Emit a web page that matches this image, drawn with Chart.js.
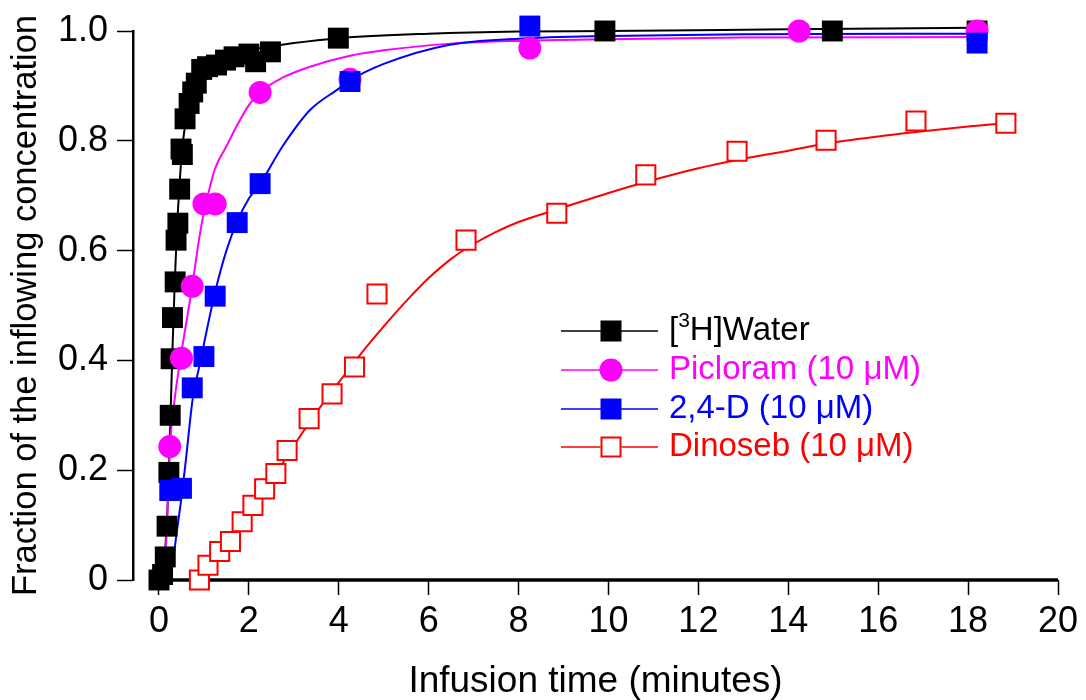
<!DOCTYPE html>
<html>
<head>
<meta charset="utf-8">
<script src="https://cdn.jsdelivr.net/npm/chart.js@4.4.0/dist/chart.umd.min.js"></script>
<style>
  body { margin: 0; background: #fff; }
  canvas { display: block; }
</style>
</head>
<body>
<canvas id="infusion" width="1086" height="700"></canvas>
<script>
// Puntos medidos ([3H]Water)
const aguaX = [0.0, 0.08, 0.14, 0.18, 0.22, 0.25, 0.27, 0.30, 0.36, 0.38, 0.42, 0.46, 0.49, 0.52, 0.58, 0.67, 0.75, 0.83, 0.95, 1.08, 1.28, 1.48, 1.67, 2.0, 2.15, 2.48, 3.99, 9.92, 14.98, 18.2];
const aguaY = [0.0, 0.01, 0.042, 0.098, 0.196, 0.30, 0.403, 0.478, 0.543, 0.619, 0.650, 0.712, 0.785, 0.775, 0.840, 0.868, 0.889, 0.905, 0.930, 0.935, 0.938, 0.947, 0.953, 0.958, 0.944, 0.962, 0.987, 1.0, 1.0, 1.0];

// Picloram (10 uM)
const picloramX = [0.24, 0.50, 0.74, 1.0, 1.25, 2.25, 4.25, 8.25, 14.24, 18.2];
const picloramY = [0.243, 0.404, 0.535, 0.685, 0.685, 0.888, 0.912, 0.969, 1.0, 1.0];

// 2,4-D (10 uM)
const dX = [0.24, 0.50, 0.74, 1.0, 1.25, 1.74, 2.25, 4.25, 8.25, 18.2];
const dY = [0.163, 0.167, 0.350, 0.407, 0.517, 0.651, 0.722, 0.908, 1.009, 0.978];

// Dinoseb (10 uM)
const dinosebX = [0.90, 1.09, 1.35, 1.59, 1.85, 2.09, 2.35, 2.60, 2.85, 3.34, 3.85, 4.35, 4.85, 6.83, 8.85, 10.83, 12.86, 14.84, 16.84, 18.84];
const dinosebY = [0.0, 0.027, 0.052, 0.070, 0.106, 0.136, 0.166, 0.194, 0.236, 0.294, 0.339, 0.388, 0.521, 0.619, 0.668, 0.738, 0.781, 0.801, 0.836, 0.832];

// Curvas ajustadas
const curvaAguaX = [0.05, 0.10, 0.15, 0.20, 0.25, 0.30, 0.35, 0.40, 0.45, 0.50, 0.60, 0.70, 0.80, 1.0, 1.25, 1.5, 2.0, 3.0, 4.0, 6.0, 8.0, 10.0, 14.0, 18.2];
const curvaAguaY = [0.0, 0.02, 0.07, 0.15, 0.28, 0.42, 0.54, 0.64, 0.71, 0.77, 0.84, 0.88, 0.905, 0.93, 0.945, 0.955, 0.965, 0.978, 0.987, 0.995, 0.999, 1.0, 1.003, 1.006];

const curvaPicX = [0.12, 0.15, 0.20, 0.25, 0.35, 0.47, 0.60, 0.69, 0.80, 0.90, 1.0, 1.1, 1.25, 1.5, 1.75, 2.0, 2.25, 2.75, 3.36, 4.25, 5.0, 6.5, 8.0, 10.0, 13.0, 18.2];
const curvaPicY = [0.0, 0.05, 0.15, 0.25, 0.33, 0.40, 0.465, 0.51, 0.57, 0.625, 0.67, 0.705, 0.75, 0.79, 0.83, 0.865, 0.889, 0.915, 0.935, 0.955, 0.965, 0.977, 0.982, 0.985, 0.988, 0.989];

const curvaDX = [0.22, 0.30, 0.40, 0.50, 0.60, 0.75, 0.90, 1.0, 1.25, 1.5, 1.75, 2.0, 2.25, 2.75, 3.36, 4.0, 4.25, 5.0, 6.47, 8.0, 10.0, 13.0, 18.2];
const curvaDY = [0.0, 0.03, 0.09, 0.15, 0.22, 0.33, 0.39, 0.43, 0.525, 0.60, 0.655, 0.695, 0.722, 0.79, 0.856, 0.895, 0.91, 0.94, 0.975, 0.986, 0.991, 0.994, 0.995];

const curvaDinoX = [0.9, 1.5, 2.0, 2.5, 3.0, 3.5, 4.0, 4.5, 5.0, 5.5, 6.0, 6.5, 7.0, 7.5, 8.0, 8.85, 10.0, 10.83, 12.0, 12.86, 14.0, 14.84, 16.0, 16.84, 18.0, 18.84];
const curvaDinoY = [0.0, 0.06, 0.12, 0.18, 0.245, 0.305, 0.36, 0.413, 0.462, 0.508, 0.55, 0.585, 0.612, 0.634, 0.652, 0.675, 0.705, 0.725, 0.75, 0.765, 0.782, 0.795, 0.808, 0.816, 0.826, 0.832];

// Ticks de los ejes
const ticksX = [0, 2, 4, 6, 8, 10, 12, 14, 16, 18, 20];
const ticksY = [0, 0.2, 0.4, 0.6, 0.8, 1.0];

const fuente = "'Liberation Sans', Arial, sans-serif";

function pares(xs, ys) {
  return xs.map((x, i) => ({ x: x, y: ys[i] }));
}

function curva(xs, ys, color, orden) {
  return {
    type: 'line',
    data: pares(xs, ys),
    borderColor: color,
    borderWidth: 2,
    pointRadius: 0,
    fill: false,
    showLine: true,
    cubicInterpolationMode: 'monotone',
    order: orden,
    clip: false
  };
}

function marcas(xs, ys, estilo, radio, fondo, borde, ancho, orden) {
  return {
    type: 'scatter',
    data: pares(xs, ys),
    pointStyle: estilo,
    pointRadius: radio,
    pointHoverRadius: radio,
    backgroundColor: fondo,
    borderColor: borde,
    borderWidth: ancho,
    showLine: false,
    order: orden,
    clip: false
  };
}

// leyenda dibujada a mano (por el superindice del 3)
const entradas = [
  { texto: ['[', '3', 'H]Water'], color: '#000000', estilo: 'rect', fondo: '#000000' },
  { texto: ['Picloram (10 \u03bcM)'], color: '#ff00ff', estilo: 'circle', fondo: '#ff00ff' },
  { texto: ['2,4-D (10 \u03bcM)'], color: '#0000ff', estilo: 'rect', fondo: '#0000ff' },
  { texto: ['Dinoseb (10 \u03bcM)'], color: '#ff0000', estilo: 'rect', fondo: '#ffffff' }
];

const leyendaPlugin = {
  id: 'leyendaManual',
  afterDraw(chart) {
    const ctx = chart.ctx;
    const filas = [331, 370, 409, 447];
    ctx.save();
    entradas.forEach((e, i) => {
      const y = filas[i];
      ctx.strokeStyle = e.color;
      ctx.lineWidth = 1.5;
      ctx.beginPath();
      ctx.moveTo(561, y);
      ctx.lineTo(658, y);
      ctx.stroke();
      ctx.fillStyle = e.fondo;
      if (e.estilo === 'circle') {
        ctx.beginPath();
        ctx.arc(611, y, 11.5, 0, Math.PI * 2);
        ctx.fill();
      } else {
        ctx.fillRect(600.5, y - 10.5, 21, 21);
        if (e.fondo === '#ffffff') {
          ctx.lineWidth = 2;
          ctx.strokeRect(601.5, y - 9.5, 19, 19);
        }
      }
      ctx.fillStyle = e.color;
      ctx.textBaseline = 'middle';
      ctx.textAlign = 'left';
      let x = 669;
      if (e.texto.length === 3) {
        ctx.font = '33px ' + fuente;
        ctx.fillText(e.texto[0], x, y);
        x += ctx.measureText(e.texto[0]).width;
        ctx.font = '21px ' + fuente;
        ctx.fillText(e.texto[1], x, y - 10);
        x += ctx.measureText(e.texto[1]).width;
        ctx.font = '33px ' + fuente;
        ctx.fillText(e.texto[2], x, y);
      } else {
        ctx.font = '33px ' + fuente;
        ctx.fillText(e.texto[0], x, y);
      }
    });
    ctx.restore();
  }
};

// linea del eje x (solo de 0 a 20)
const ejeXPlugin = {
  id: 'ejeX',
  beforeDatasetsDraw(chart) {
    const ctx = chart.ctx;
    const sx = chart.scales.x;
    const y0 = chart.scales.y.getPixelForValue(0);
    ctx.save();
    ctx.strokeStyle = '#000';
    ctx.lineWidth = 3.5;
    ctx.beginPath();
    ctx.moveTo(sx.getPixelForValue(0), y0);
    ctx.lineTo(sx.getPixelForValue(20), y0);
    ctx.stroke();
    ctx.restore();
  }
};

const ctx = document.getElementById('infusion').getContext('2d');
const grafico = new Chart(ctx, {
  type: 'scatter',
  data: {
    datasets: [
      curva(curvaAguaX, curvaAguaY, '#000000', 8),
      curva(curvaPicX, curvaPicY, '#ff00ff', 7),
      curva(curvaDX, curvaDY, '#0000ff', 6),
      curva(curvaDinoX, curvaDinoY, '#ff0000', 5),
      marcas(aguaX, aguaY, 'rect', 14.8, '#000000', '#000000', 0, 4),
      marcas(picloramX, picloramY, 'circle', 11.5, '#ff00ff', '#ff00ff', 0, 3),
      marcas(dX, dY, 'rect', 14.8, '#0000ff', '#0000ff', 0, 2),
      marcas(dinosebX, dinosebY, 'rect', 13.5, '#ffffff', '#ff0000', 2, 1)
    ]
  },
  options: {
    responsive: false,
    animation: false,
    layout: { padding: { top: 31, right: 28, left: 0, bottom: 0 } },
    plugins: {
      legend: { display: false },
      tooltip: { enabled: false }
    },
    scales: {
      x: {
        type: 'linear',
        min: -0.578,
        max: 20,
        afterBuildTicks(scale) {
          scale.ticks = ticksX.map(v => ({ value: v }));
        },
        afterFit(scale) { scale.height = 120; },
        border: { display: false },
        grid: {
          drawOnChartArea: false,
          drawTicks: true,
          tickLength: 15,
          tickWidth: 1.5,
          color: '#000'
        },
        ticks: {
          color: '#000',
          padding: 5,
          maxRotation: 0,
          font: { family: fuente, size: 36 }
        },
        title: {
          display: true,
          text: 'Infusion time (minutes)',
          color: '#000',
          padding: { top: 0, bottom: 0 },
          font: { family: fuente, size: 37, lineHeight: 1.0 }
        }
      },
      y: {
        type: 'linear',
        min: 0,
        max: 1.0,
        afterBuildTicks(scale) {
          scale.ticks = ticksY.map(v => ({ value: v }));
        },
        afterFit(scale) { scale.width = 133; },
        border: { display: true, color: '#000', width: 2.5 },
        grid: {
          drawOnChartArea: false,
          drawTicks: true,
          tickLength: 16,
          tickWidth: 1.5,
          color: '#000'
        },
        ticks: {
          color: '#000',
          padding: 9,
          font: { family: fuente, size: 36 },
          callback: v => (v === 0 ? '0' : v.toFixed(1))
        },
        title: {
          display: true,
          text: 'Fraction of the inflowing concentration',
          color: '#000',
          padding: { top: 6, bottom: 0 },
          font: { family: fuente, size: 34.5, lineHeight: 1.2 }
        }
      }
    }
  },
  plugins: [ejeXPlugin, leyendaPlugin]
});
</script>
</body>
</html>
